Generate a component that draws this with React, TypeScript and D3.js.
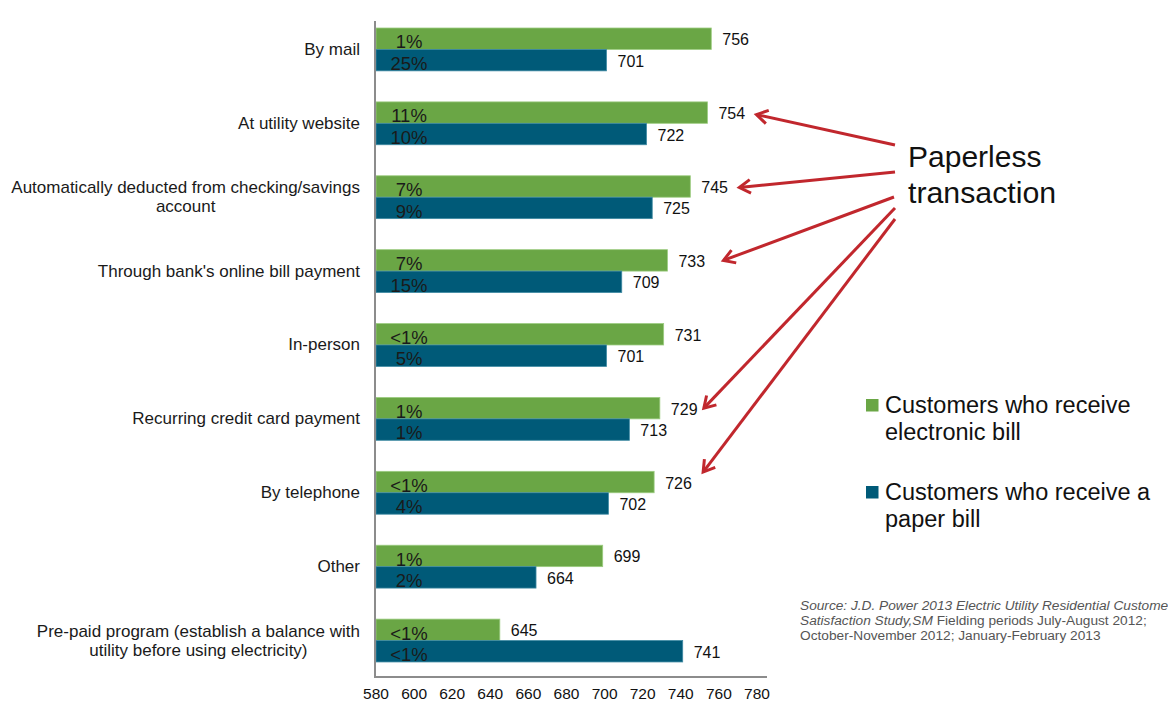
import React, { useEffect, useRef } from "react";
import * as d3 from "d3";

const categories = [
  "By mail",
  "At utility website",
  "Automatically deducted from checking/savings|account",
  "Through bank's online bill payment",
  "In-person",
  "Recurring credit card payment",
  "By telephone",
  "Other",
  "Pre-paid program (establish a balance with|utility before using electricity)",
];
const electronicValues = [756, 754, 745, 733, 731, 729, 726, 699, 645];
const paperValues = [701, 722, 725, 709, 701, 713, 702, 664, 741];
const electronicPct = ["1%", "11%", "7%", "7%", "<1%", "1%", "<1%", "1%", "<1%"];
const paperPct = ["25%", "10%", "9%", "15%", "5%", "1%", "4%", "2%", "<1%"];
const xTicks = [580, 600, 620, 640, 660, 680, 700, 720, 740, 760, 780];
const seriesKeys = ["electronic", "paper"];
const legendLabels = [
  ["Customers who receive", "electronic bill"],
  ["Customers who receive a", "paper bill"],
];
// annotation arrows point at the electronic bars of these categories
const arrowTargets = [1, 2, 3, 5, 6];

const GREEN = "#6aa645";
const BLUE = "#005a78";
const RED = "#c1272d";
const FONT = "'Liberation Sans', Arial, Helvetica, sans-serif";

export default function App() {
  const ref = useRef<SVGSVGElement>(null);

  useEffect(() => {
    const svg = d3.select(ref.current);
    svg.selectAll("*").remove();

    const x = d3.scaleLinear().domain([580, 780]).range([376, 757]);
    const y0 = d3
      .scaleBand()
      .domain(categories)
      .range([10, 675])
      .paddingInner(0.42)
      .paddingOuter(0.21)
      .align(0.58);
    const y1 = d3.scaleBand().domain(seriesKeys).range([0, y0.bandwidth()]);

    const rows = categories.map((c, i) => ({
      c,
      vals: [
        { k: "electronic", v: electronicValues[i], p: electronicPct[i], col: GREEN, stroke: "#9ccc80" },
        { k: "paper", v: paperValues[i], p: paperPct[i], col: BLUE, stroke: "#3f8aa3" },
      ],
    }));

    const g = svg.append("g");
    const grp = g
      .selectAll("g.grp")
      .data(rows)
      .enter()
      .append("g")
      .attr("transform", (d) => `translate(0,${y0(d.c)})`);

    const bars = grp.selectAll("g.bar").data((d) => d.vals).enter().append("g");
    bars
      .append("rect")
      .attr("x", x(580))
      .attr("y", (d) => y1(d.k)!)
      .attr("width", (d) => x(d.v) - x(580))
      .attr("height", y1.bandwidth())
      .attr("fill", (d) => d.col)
      .attr("stroke", (d) => d.stroke)
      .attr("stroke-width", 0.8);
    bars
      .append("text")
      .attr("x", 409)
      .attr("y", (d) => y1(d.k)! + y1.bandwidth() - 1)
      .attr("text-anchor", "middle")
      .attr("font-size", 18.5)
      .attr("fill", "#1a1a1a")
      .text((d) => d.p);
    bars
      .append("text")
      .attr("x", (d) => x(d.v) + 11)
      .attr("y", (d) => y1(d.k)! + y1.bandwidth() / 2 + 1)
      .attr("dominant-baseline", "central")
      .attr("font-size", 16)
      .attr("fill", "#111")
      .text((d) => d.v);

    // category labels
    rows.forEach((r) => {
      const lines = r.c.split("|");
      const cy = y0(r.c)! + y0.bandwidth() / 2;
      const lh = 19;
      const t = g.append("g");
      const texts = lines.map((ln, j) =>
        t
          .append("text")
          .attr("y", cy + (j - (lines.length - 1) / 2) * lh)
          .attr("dominant-baseline", "central")
          .attr("font-size", 17)
          .attr("fill", "#1a1a1a")
          .text(ln)
      );
      const widths = texts.map((tx) => (tx.node() as SVGTextElement).getComputedTextLength());
      const maxW = Math.max(...widths);
      texts.forEach((tx) => tx.attr("x", 360 - maxW / 2).attr("text-anchor", "middle"));
    });

    // axes lines
    g.append("line")
      .attr("x1", 375)
      .attr("x2", 375)
      .attr("y1", 21)
      .attr("y2", 677)
      .attr("stroke", "#8c8c8c")
      .attr("stroke-width", 2);
    g.append("line")
      .attr("x1", 374)
      .attr("x2", 767)
      .attr("y1", 677)
      .attr("y2", 677)
      .attr("stroke", "#8c8c8c")
      .attr("stroke-width", 2);
    g.selectAll("text.tick")
      .data(xTicks)
      .enter()
      .append("text")
      .attr("x", (d) => x(d))
      .attr("y", 699)
      .attr("text-anchor", "middle")
      .attr("font-size", 15.5)
      .attr("fill", "#111")
      .text((d) => d);

    // legend
    const legendCols = [GREEN, BLUE];
    const legendY = [399, 486];
    legendLabels.forEach((lines, i) => {
      g.append("rect")
        .attr("x", 866)
        .attr("y", legendY[i])
        .attr("width", 12.5)
        .attr("height", 12.5)
        .attr("fill", legendCols[i]);
      lines.forEach((ln, j) => {
        g.append("text")
          .attr("x", 885)
          .attr("y", legendY[i] + 14 + j * 27)
          .attr("font-size", 23.5)
          .attr("fill", "#111")
          .text(ln);
      });
    });

    // annotation
    g.append("text").attr("x", 908).attr("y", 167).attr("font-size", 30).attr("fill", "#111").text("Paperless");
    g.append("text").attr("x", 908).attr("y", 203).attr("font-size", 30.3).attr("fill", "#111").text("transaction");

    const tipOffsets = [
      [11, 2],
      [11, 1],
      [18, 0],
      [6, 0],
      [11, -10],
    ];
    const starts = [
      [895, 145],
      [895, 172],
      [894, 197],
      [895, 208],
      [895, 219],
    ];
    arrowTargets.forEach((ci, i) => {
      const c = categories[ci];
      const labelEnd = x(electronicValues[ci]) + 11 + 27;
      const tx = labelEnd + tipOffsets[i][0];
      const ty = y0(c)! + y1("electronic")! + y1.bandwidth() / 2 + tipOffsets[i][1];
      const [sx, sy] = starts[i];
      const ang = Math.atan2(sy - ty, sx - tx);
      const L = 13;
      const spread = 0.55;
      g.append("line")
        .attr("x1", sx)
        .attr("y1", sy)
        .attr("x2", tx)
        .attr("y2", ty)
        .attr("stroke", RED)
        .attr("stroke-width", 3);
      g.append("path")
        .attr(
          "d",
          `M${tx + L * Math.cos(ang + spread)},${ty + L * Math.sin(ang + spread)}L${tx},${ty}L${
            tx + L * Math.cos(ang - spread)
          },${ty + L * Math.sin(ang - spread)}`
        )
        .attr("fill", "none")
        .attr("stroke", RED)
        .attr("stroke-width", 3)
        .attr("stroke-linejoin", "miter");
    });

    // source
    const src = g.append("g").attr("font-size", 13.7).attr("fill", "#555");
    src
      .append("text")
      .attr("x", 800)
      .attr("y", 610)
      .attr("font-style", "italic")
      .text("Source: J.D. Power 2013 Electric Utility Residential Customer");
    const l2 = src.append("text").attr("x", 800).attr("y", 625);
    l2.append("tspan").attr("font-style", "italic").text("Satisfaction Study,SM");
    l2.append("tspan").text(" Fielding periods July-August 2012;");
    src.append("text").attr("x", 800).attr("y", 640).text("October-November 2012; January-February 2013");
  }, []);

  return (
    <svg
      ref={ref}
      width={1168}
      height={702}
      style={{ position: "absolute", left: 0, top: 0, background: "#fff", fontFamily: FONT }}
    />
  );
}
